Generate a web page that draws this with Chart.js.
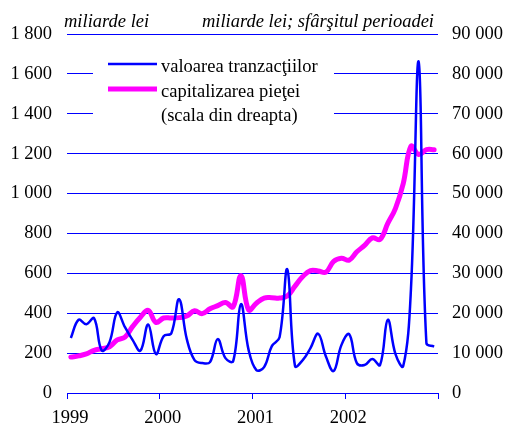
<!DOCTYPE html>
<html>
<head>
<meta charset="utf-8">
<script src="https://cdn.jsdelivr.net/npm/chart.js@4"></script>
<style>
html,body{margin:0;padding:0;background:#fff;}
#wrap{position:relative;width:509px;height:426px;}
</style>
</head>
<body>
<div id="wrap"><canvas id="c" width="509" height="426"></canvas></div>
<script>
// ---- data (monthly, Jan 1999 - Dec 2002) ----
const years = ['1999', '2000', '2001', '2002'];
const tranzactii = [276, 367, 345, 375, 213, 255, 404, 330, 265, 212, 343, 195,
                    285, 300, 470, 270, 165, 150, 155, 270, 175, 160, 445, 215,
                    115, 130, 235, 280, 620, 135, 165, 225, 297, 183, 110, 240,
                    295, 150, 140, 170, 140, 367, 195, 135, 520, 1661, 250, 233];
const capitalizare = [9000, 9300, 9800, 10700, 11100, 11600, 13300, 14000, 16700, 19000, 20700, 17700,
                      18800, 18800, 18900, 19300, 20600, 19900, 21100, 21900, 22700, 21600, 29400, 20800,
                      22500, 23800, 23900, 23800, 24300, 26800, 29200, 30700, 30600, 30300, 33000, 33800,
                      33300, 35400, 37000, 38900, 38500, 42500, 46300, 52500, 61900, 59800, 61000, 61000];
const leftTicks = [0, 200, 400, 600, 800, 1000, 1200, 1400, 1600, 1800];
const rightTicks = [0, 10000, 20000, 30000, 40000, 50000, 60000, 70000, 80000, 90000];
const legendLabels = ['valoarea tranzacţiilor', 'capitalizarea pieţei', '(scala din dreapta)'];
const leftTitle = 'miliarde lei';
const rightTitle = 'miliarde lei; sfârşitul perioadei';

const BLUE = '#0000ff', MAG = '#ff00ff';
const FONT = '"Liberation Serif", "Times New Roman", serif';
const fmt = v => String(v).replace(/\B(?=(\d{3})+(?!\d))/g, ' ');

const pts = arr => arr.map((v, i) => ({x: i + 0.5, y: v}));

const overlay = {
  id: 'overlay',
  afterDraw(chart) {
    const ctx = chart.ctx;
    ctx.save();
    ctx.fillStyle = '#000';
    ctx.textBaseline = 'alphabetic';
    ctx.font = 'italic 18.5px ' + FONT;
    ctx.textAlign = 'left';
    ctx.fillText(leftTitle, 64, 27);
    ctx.textAlign = 'right';
    ctx.fillText(rightTitle, 434, 27);
    // legend
    ctx.fillStyle = '#fff';
    ctx.fillRect(93, 50, 241, 80);
    ctx.lineCap = 'butt';
    ctx.strokeStyle = BLUE; ctx.lineWidth = 2.5;
    ctx.beginPath(); ctx.moveTo(108, 64); ctx.lineTo(157, 64); ctx.stroke();
    ctx.strokeStyle = MAG; ctx.lineWidth = 5;
    ctx.beginPath(); ctx.moveTo(108, 89); ctx.lineTo(157, 89); ctx.stroke();
    ctx.fillStyle = '#000';
    ctx.font = '18.5px ' + FONT;
    ctx.textAlign = 'left';
    ctx.fillText(legendLabels[0], 161, 72);
    ctx.fillText(legendLabels[1], 161, 96.5);
    ctx.fillText(legendLabels[2], 161, 121);
    ctx.restore();
  }
};

new Chart(document.getElementById('c'), {
  type: 'line',
  data: {
    datasets: [
      {label: legendLabels[0], data: pts(tranzactii), yAxisID: 'yL', borderColor: BLUE,
       borderWidth: 2.5, pointRadius: 0, tension: 0.4, fill: false, order: 1},
      {label: legendLabels[1], data: pts(capitalizare), yAxisID: 'yR', borderColor: MAG,
       borderWidth: 5, pointRadius: 0, tension: 0.4, fill: false, order: 2, borderCapStyle: 'round'}
    ]
  },
  options: {
    responsive: false,
    animation: false,
    devicePixelRatio: 1,
    layout: {padding: {top: 34, left: 0, right: 0, bottom: 0}},
    plugins: {legend: {display: false}, tooltip: {enabled: false}, title: {display: false}},
    scales: {
      x: {
        type: 'linear', min: 0, max: 48,
        afterBuildTicks: s => { s.ticks = [0, 12, 24, 36, 48].map(v => ({value: v})); },
        afterFit: s => { s.height = 33; },
        border: {display: true, color: BLUE, width: 1},
        grid: {drawOnChartArea: false, drawTicks: true, tickLength: 6, color: BLUE, tickColor: BLUE},
        ticks: {
          autoSkip: false, maxRotation: 0, padding: 8, labelOffset: 3, color: '#000',
          font: {family: FONT, size: 18.5},
          callback: v => (v % 12 === 0 && v / 12 < years.length) ? years[v / 12] : ''
        }
      },
      yL: {
        position: 'left', min: 0, max: 1800,
        afterBuildTicks: s => { s.ticks = leftTicks.map(v => ({value: v})); },
        afterFit: s => { s.width = 67; },
        border: {display: false},
        grid: {color: BLUE, lineWidth: 1, drawTicks: false},
        ticks: {padding: 15, color: '#000', font: {family: FONT, size: 18.5}, callback: v => fmt(v)}
      },
      yR: {
        position: 'right', min: 0, max: 90000,
        afterBuildTicks: s => { s.ticks = rightTicks.map(v => ({value: v})); },
        afterFit: s => { s.width = 71; },
        border: {display: false},
        grid: {drawOnChartArea: false, drawTicks: false},
        ticks: {padding: 14, color: '#000', font: {family: FONT, size: 18.5}, callback: v => fmt(v)}
      }
    }
  },
  plugins: [overlay]
});
</script>
</body>
</html>
